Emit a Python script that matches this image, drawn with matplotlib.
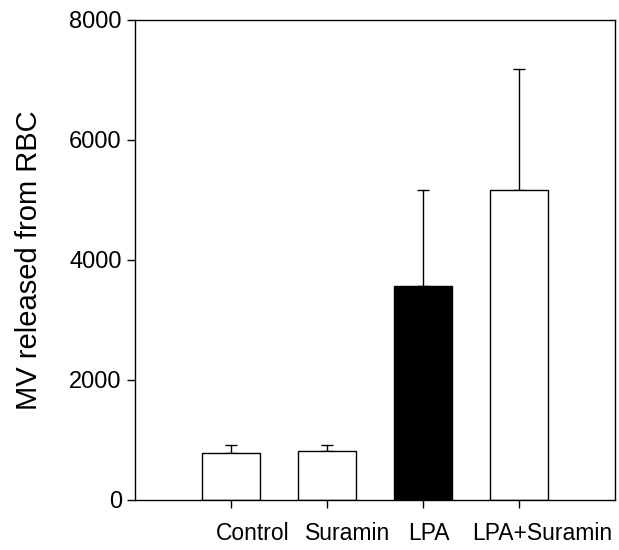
import matplotlib
matplotlib.use("Agg")
import matplotlib.pyplot as plt

categories = ["Control", "Suramin", "LPA", "LPA+Suramin"]
values = [780, 815, 3560, 5170]
errors = [130, 110, 1600, 2010]
fill_colors = ["white", "white", "black", "white"]
# label centres sit a bit right of the ticks in the original
label_x = [1.23, 2.21, 3.06, 4.24]

plt.rcParams["font.family"] = ["Liberation Sans", "DejaVu Sans"]

fig = plt.figure(figsize=(6.19, 5.5), dpi=100)
ax = fig.add_axes([135 / 619, 50 / 550, 480 / 619, 480 / 550])

x = list(range(1, len(categories) + 1))
ax.bar(x, values, width=0.6, color=fill_colors, edgecolor="black", linewidth=1.0, zorder=2)
ax.errorbar(x, values, yerr=[[0] * len(errors), errors], fmt="none",
            ecolor="black", elinewidth=1.0, capsize=4.5, capthick=1.0, zorder=1)

ax.set_xlim(0, 5)
ax.set_ylim(0, 8000)
ax.set_xticks(x)
ax.set_xticklabels([])
ax.set_yticks([0, 2000, 4000, 6000, 8000])
ax.tick_params(axis="both", direction="out", length=6, width=1.0, labelsize=17)
for s in ax.spines.values():
    s.set_linewidth(1.0)

for lx, name in zip(label_x, categories):
    ax.text(lx, -0.045, name, transform=ax.get_xaxis_transform(),
            ha="center", va="top", fontsize=16.5)

ax.set_ylabel("MV released from RBC", fontsize=21, labelpad=18.5)

fig.savefig("out.png", dpi=100)
